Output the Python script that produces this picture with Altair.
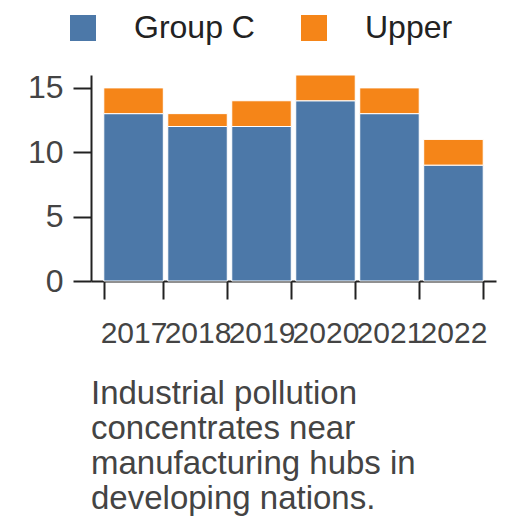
import altair as alt
import pandas as pd

years = ["2017", "2018", "2019", "2020", "2021", "2022"]
group_c = [13, 12, 12, 14, 13, 9]
upper = [2, 1, 2, 2, 2, 2]
series = ["Group C", "Upper"]
colors = ["#4c78a8", "#f58518"]
caption = ["Industrial pollution", "concentrates near", "manufacturing hubs in", "developing nations."]

rows = []
for y, a, b in zip(years, group_c, upper):
    rows.append({"year": y, "series": "Group C", "value": a})
    rows.append({"year": y, "series": "Upper", "value": b})
df = pd.DataFrame(rows)

FONT = "Liberation Sans"
TXT = "#444444"
AX = "#222222"

chart = alt.Chart(df).mark_bar(stroke="white", strokeWidth=1).encode(
    x=alt.X("year:N", title=None,
            scale=alt.Scale(paddingInner=0.07, paddingOuter=0.2),
            axis=alt.Axis(labelAngle=0, tickBand="extent", labelFontSize=30,
                          labelColor=TXT, labelPadding=19, tickSize=18,
                          tickWidth=2, domainWidth=2, tickColor=AX,
                          domainColor=AX, labelFont=FONT)),
    y=alt.Y("value:Q", stack="zero", title=None,
            scale=alt.Scale(domain=[0, 16], nice=False),
            axis=alt.Axis(values=[0, 5, 10, 15], grid=False, labelFontSize=32,
                          labelColor=TXT, labelPadding=10, tickSize=18,
                          tickWidth=2, domainWidth=2, tickColor=AX,
                          domainColor=AX, labelFont=FONT)),
    color=alt.Color("series:N", scale=alt.Scale(domain=series, range=colors),
                    legend=alt.Legend(title=None, orient="none", direction="horizontal",
                                      legendX=-24, legendY=-63,
                                      symbolType="square", symbolSize=676,
                                      symbolStrokeWidth=0, labelFontSize=32,
                                      labelColor="#222222", labelOffset=35,
                                      columnPadding=43, labelFont=FONT)),
    order=alt.Order("series:N", sort="ascending"),
).properties(
    width=405,
    height=206,
    padding={"left": 19, "top": 4, "right": 10, "bottom": 5},
    title=alt.TitleParams(text=caption, orient="bottom", anchor="start", frame="group",
                          fontSize=33, fontWeight="normal", color=TXT,
                          lineHeight=35, font=FONT, offset=30),
).configure_view(stroke=None)

chart.save("out.html", embed_options={"renderer": "svg", "actions": False})
